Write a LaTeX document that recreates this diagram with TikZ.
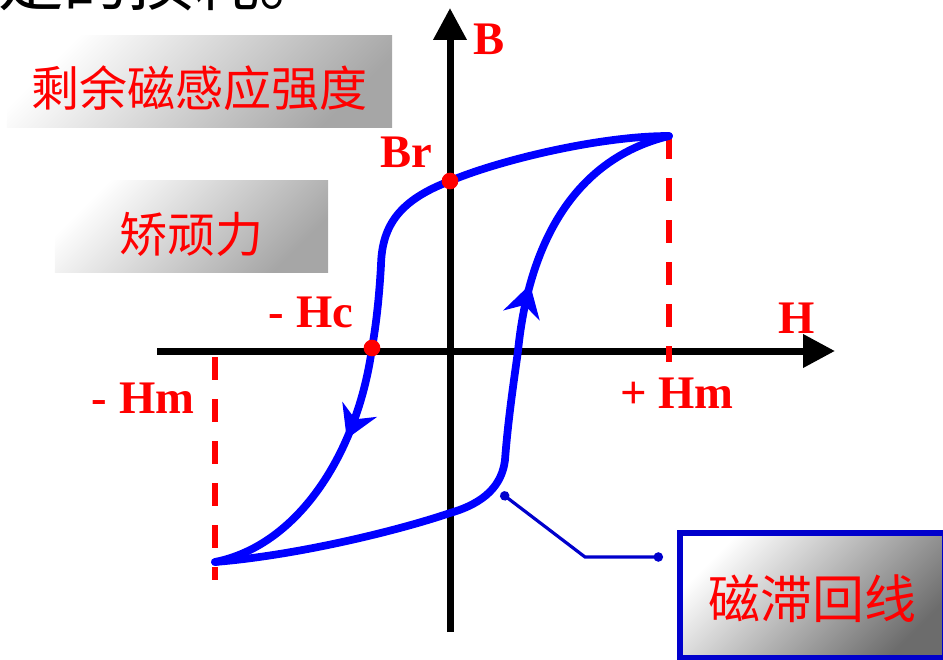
\documentclass[tikz,border=0pt]{standalone}
\usepackage{fontspec}
\setmainfont{Liberation Serif}
\newfontfamily\cjk{Noto Sans CJK SC}
\usepackage{tikz}
\usetikzlibrary{arrows.meta, decorations.markings}
\definecolor{loopblue}{HTML}{0000FF}
\definecolor{tagblue}{HTML}{0000CC}
\definecolor{markred}{HTML}{FF0000}

\begin{document}
\begin{tikzpicture}[
  x=0.75pt, y=-0.75pt,
  axis/.style={line width=5.25pt, -{Triangle[length=24pt, width=24pt]}},
  bound/.style={draw=markred, line width=4.3pt, dash pattern=on 17.5pt off 14pt},
  hyst/.style={draw=loopblue, color=loopblue, line width=5.8pt, line cap=round, line join=round},
  flowmark/.style={postaction={decorate}, decoration={markings, mark=at position #1 with {\arrow{Stealth[length=24pt, width=28pt, inset=8pt]}}}},
  sym/.style={text=markred, font=\bfseries\fontsize{35}{40}\selectfont, inner sep=0pt},
  rdot/.style={circle, fill=markred, minimum size=12.5pt, inner sep=0pt},
  gbox/.style={rectangle, top color=white, bottom color=gray!70, shading angle=45, text=markred, font=\cjk\fontsize{36}{40}\selectfont, inner sep=0pt, text depth=0pt},
  leader/.style={draw=tagblue, line width=2.4pt, {Circle[length=7pt]}-{Circle[length=7pt]}}
]
  \useasboundingbox (0,0) rectangle (943,660);

  % cut-off line of the page text
  \node[anchor=base west, font=\cjk\fontsize{49}{52}\selectfont, inner sep=0pt] (headline) at (-2,6) {是的损耗。};

  % term boxes
  \node[gbox, minimum width=289pt, minimum height=69pt, text height=36.8pt] (remanence) at (199.5,82) {剩余磁感应强度};
  \node[gbox, minimum width=205pt, minimum height=69pt, text height=39.8pt] (coercive) at (191.5,226) {矫顽力};
  \node[gbox, draw=tagblue, line width=4pt, bottom color=gray!85!black, shading angle=45, font=\cjk\fontsize{39}{44}\selectfont, minimum width=198.75pt, minimum height=93.75pt, text height=35.2pt] (loopname) at (812.5,595.5) {磁滞回线};

  % axes
  \coordinate (bfoot) at (450,632);
  \coordinate (btip) at (450,8);
  \coordinate (hfoot) at (157,351);
  \coordinate (htip) at (835,351);
  \draw[axis] (bfoot) -- (btip);
  \draw[axis] (hfoot) -- (htip);

  % loop corners and crossings
  \coordinate (pHm) at (669,136);
  \coordinate (nHm) at (215,562);
  \coordinate (br) at (450,181);
  \coordinate (hc) at (372,348);

  \draw[bound] (pHm) -- (669,362);
  \draw[bound] (215,357) -- (215,580);

  % descending branch
  \draw[hyst, flowmark=0.735] (pHm) .. controls (600,136) and (500,160) .. (br)
    .. controls (400,200) and (382,225) .. (381,265)
    .. controls (379,300) and (376,325) .. (hc)
    .. controls (358,450) and (300,545) .. (nHm);
  % ascending branch
  \draw[hyst, flowmark=0.70] (nHm) .. controls (300,555) and (400,530) .. (450,513)
    .. controls (485,503) and (502,485) .. (505,460)
    .. controls (508,420) and (514,380) .. (518,351)
    .. controls (528,250) and (570,160) .. (pHm);

  \node[rdot] (brdot) at (br) {};
  \node[rdot] (hcdot) at (hc) {};

  % labels
  \node[sym, anchor=base] (blabel) at (489,55) {B};
  \node[sym, anchor=base] (hlabel) at (797,333) {H};
  \node[sym, anchor=base] (brlabel) at (406,167) {Br};
  \node[sym, anchor=base] (hclabel) at (311,327) {- Hc};
  \node[sym, anchor=base] (hmneg) at (143,413) {- Hm};
  \node[sym, anchor=base] (hmpos) at (677,408) {+ Hm};

  % pointer to the name box
  \coordinate (loopPt) at (501,493);
  \coordinate (bendPt) at (585,557);
  \coordinate (tagPt) at (663,557);
  \draw[leader] (loopPt) -- (bendPt) -- (tagPt);
\end{tikzpicture}
\end{document}
